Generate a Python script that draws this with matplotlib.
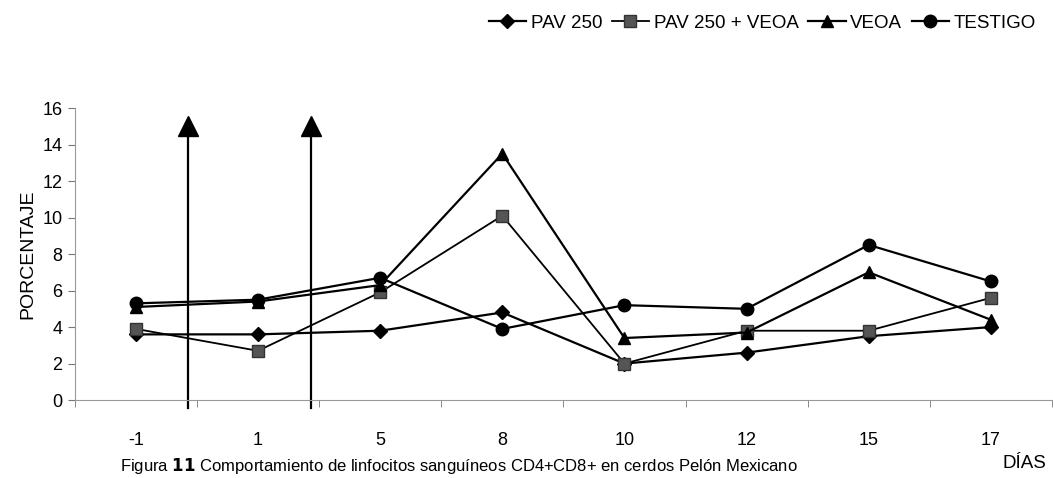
import matplotlib.pyplot as plt

plt.rcParams['font.family'] = ['Liberation Sans', 'DejaVu Sans']

# Data
dias = ['-1', '1', '5', '8', '10', '12', '15', '17']
pav250 = [3.6, 3.6, 3.8, 4.8, 2.0, 2.6, 3.5, 4.0]
pav250_veoa = [3.9, 2.7, 5.9, 10.1, 2.0, 3.8, 3.8, 5.6]
veoa = [5.1, 5.4, 6.3, 13.5, 3.4, 3.7, 7.0, 4.4]
testigo = [5.3, 5.5, 6.7, 3.9, 5.2, 5.0, 8.5, 6.5]
# vertical arrows (treatment applications), position on category axis
arrow_pos = [0.43, 1.43]

fig = plt.figure(figsize=(10.53, 4.78), dpi=100)
ax = fig.add_axes([0.071, 0.163, 0.928, 0.611])

x = list(range(len(dias)))
kw = dict(color='black', linewidth=1.6, markersize=9)
ax.plot(x, pav250, marker='D', markersize=7, label='PAV 250', color='black', linewidth=1.6)
ax.plot(x, pav250_veoa, marker='s', markerfacecolor='#555555', markeredgecolor='#333333',
        label='PAV 250 + VEOA', color='black', linewidth=1.3, markersize=9)
ax.plot(x, veoa, marker='^', label='VEOA', **kw)
ax.plot(x, testigo, marker='o', label='TESTIGO', **kw)

for p in arrow_pos:
    ax.plot([p, p], [-0.45, 15.0], color='black', linewidth=1.6, clip_on=False)
    ax.plot(p, 15.0, marker='^', markersize=15, color='black', clip_on=False)

ax.set_xlim(-0.5, len(dias) - 0.5)
ax.set_ylim(0, 16)
ax.set_yticks(range(0, 17, 2))
ax.set_xticks(x)
ax.set_xticklabels(dias)
ax.set_xticks([i + 0.5 for i in range(-1, len(dias))], minor=True)
ax.tick_params(axis='x', which='major', length=0, pad=23, labelsize=13)
ax.tick_params(axis='x', which='minor', length=5, color='#777777')
ax.tick_params(axis='y', length=5, color='#777777', labelsize=13, pad=4)

for s in ['top', 'right']:
    ax.spines[s].set_visible(False)
for s in ['left', 'bottom']:
    ax.spines[s].set_color('#999999')
    ax.spines[s].set_linewidth(0.8)

ax.set_ylabel('PORCENTAJE', fontsize=14, labelpad=4)
fig.text(0.973, 0.013, 'DÍAS', fontsize=13.5, ha='center', va='bottom')
fig.text(0.114, 0.004, 'Figura $\\bf{11}$ Comportamiento de linfocitos sanguíneos CD4+CD8+ en cerdos Pelón Mexicano',
         fontsize=12, ha='left', va='bottom')

fig.legend(loc='upper right', bbox_to_anchor=(1.0, 1.005), ncol=4, frameon=False,
           fontsize=13.5, handlelength=2.0, columnspacing=0.5, handletextpad=0.25)

fig.savefig('out.png', dpi=100)
